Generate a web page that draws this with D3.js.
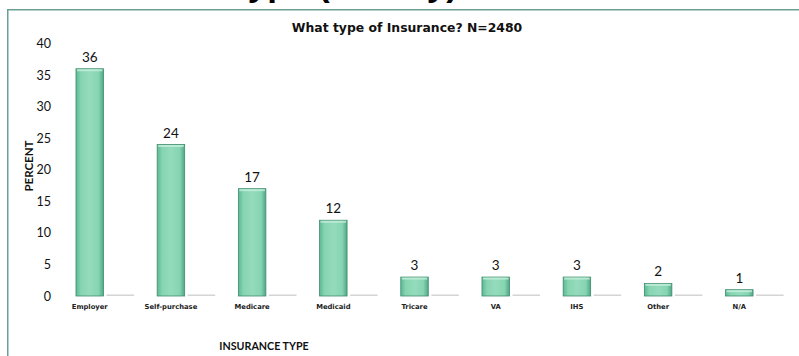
<!DOCTYPE html>
<html>
<head>
<meta charset="utf-8">
<script src="https://cdn.jsdelivr.net/npm/d3@7/dist/d3.min.js"></script>
<style>
  html, body { margin: 0; padding: 0; background: #fff; }
  svg { display: block; }
</style>
</head>
<body>
<script>
// Insurance type breakdown (percent of respondents)
const categories = ["Employer", "Self-purchase", "Medicare", "Medicaid", "Tricare", "VA", "IHS", "Other", "N/A"];
const percentValues = [36, 24, 17, 12, 3, 3, 3, 2, 1];
const secondaryValues = [0, 0, 0, 0, 0, 0, 0, 0, 0];
const yTicks = [0, 5, 10, 15, 20, 25, 30, 35, 40];

const W = 799, H = 356;
const svg = d3.select("body").append("svg").attr("width", W).attr("height", H);
svg.append("rect").attr("width", W).attr("height", H).attr("fill", "#fff");

const defs = svg.append("defs");
const grad = defs.append("linearGradient").attr("id", "barFill")
  .attr("x1", "0%").attr("x2", "100%").attr("y1", "0%").attr("y2", "0%");
grad.append("stop").attr("offset", "0%").attr("stop-color", "#5cb893");
grad.append("stop").attr("offset", "18%").attr("stop-color", "#86d4b2");
grad.append("stop").attr("offset", "50%").attr("stop-color", "#94dbbc");
grad.append("stop").attr("offset", "82%").attr("stop-color", "#86d4b2");
grad.append("stop").attr("offset", "100%").attr("stop-color", "#4fa886");

// Slide heading, sitting above the top edge so only its descenders show
svg.append("text")
  .attr("x", 54).attr("y", -4)
  .attr("font-family", "Liberation Sans, Arial, sans-serif")
  .attr("font-weight", "bold").attr("font-size", 35)
  .attr("fill", "#000")
  .text("Insurance Type (Survey)");

// Chart frame
svg.append("rect")
  .attr("x", 7.75).attr("y", 9.75).attr("width", 820).attr("height", 380)
  .attr("fill", "none").attr("stroke", "#6a9f94").attr("stroke-width", 1.5);

const y = d3.scaleLinear().domain([0, 40]).range([296, 43.5]);
const x = d3.scaleBand().domain(categories).range([63.8, 795.8])
  .paddingInner(0.285).paddingOuter(0.15);
const xs = d3.scaleBand().domain(["primary", "secondary"]).range([0, x.bandwidth()])
  .paddingInner(0.1);

// Chart title
svg.append("text")
  .attr("x", 407).attr("y", 32)
  .attr("text-anchor", "middle")
  .attr("font-family", "DejaVu Sans, sans-serif")
  .attr("font-weight", "bold").attr("font-size", 12.4)
  .attr("fill", "#111")
  .text("What type of Insurance? N=2480");

// Y axis (labels only)
const yAxis = d3.axisLeft(y).tickValues(yTicks).tickSize(0).tickPadding(0);
const gy = svg.append("g").attr("transform", "translate(51,0)").call(yAxis);
gy.select(".domain").remove();
gy.selectAll("text")
  .attr("font-family", "Lato, sans-serif").attr("font-size", 12.5)
  .attr("fill", "#111");

// Secondary series (zero values, shown as thin baseline marks)
svg.append("g").selectAll("rect").data(categories).join("rect")
  .attr("x", (d) => x(d) + xs("secondary"))
  .attr("width", xs.bandwidth())
  .attr("y", (d, i) => y(secondaryValues[i]) - 1.5)
  .attr("height", (d, i) => Math.max(1.5, y(0) - y(secondaryValues[i])))
  .attr("fill", "#d4d4d4");

// Primary bars
svg.append("g").selectAll("rect").data(categories).join("rect")
  .attr("x", (d) => x(d) + xs("primary"))
  .attr("width", xs.bandwidth())
  .attr("y", (d, i) => y(percentValues[i]))
  .attr("height", (d, i) => y(0) - y(percentValues[i]))
  .attr("fill", "url(#barFill)")
  .attr("stroke", "#3f8c6e").attr("stroke-width", 0.8);

// Highlight strip along the top of each bar
svg.append("g").selectAll("rect").data(categories).join("rect")
  .attr("x", (d) => x(d) + xs("primary") + 1)
  .attr("width", xs.bandwidth() - 2)
  .attr("y", (d, i) => y(percentValues[i]) + 0.5)
  .attr("height", (d, i) => Math.min(2, y(0) - y(percentValues[i]) - 1))
  .attr("fill", "#c6efdc").attr("opacity", 0.8);

// Value labels
svg.append("g").selectAll("text").data(categories).join("text")
  .attr("x", (d) => x(d) + xs("primary") + xs.bandwidth() / 2)
  .attr("y", (d, i) => y(percentValues[i]) - 7)
  .attr("text-anchor", "middle")
  .attr("font-family", "Lato, sans-serif").attr("font-size", 13.5)
  .attr("fill", "#111")
  .text((d, i) => d3.format("d")(percentValues[i]));

// Category labels
svg.append("g").selectAll("text").data(categories).join("text")
  .attr("x", (d) => x(d) + xs("primary") + xs.bandwidth() / 2)
  .attr("y", 309)
  .attr("text-anchor", "middle")
  .attr("font-family", "DejaVu Sans, sans-serif")
  .attr("font-weight", "bold").attr("font-size", 6.8)
  .attr("fill", "#222")
  .text((d) => d);

// Axis titles
svg.append("text")
  .attr("transform", "translate(33,166) rotate(-90)")
  .attr("text-anchor", "middle")
  .attr("font-family", "Lato, sans-serif")
  .attr("font-weight", "bold").attr("font-size", 11.5)
  .attr("fill", "#111")
  .text("PERCENT");

svg.append("text")
  .attr("x", 264).attr("y", 350)
  .attr("text-anchor", "middle")
  .attr("font-family", "Lato, sans-serif")
  .attr("font-weight", "bold").attr("font-size", 10.7)
  .attr("fill", "#111")
  .text("INSURANCE TYPE");
</script>
</body>
</html>
